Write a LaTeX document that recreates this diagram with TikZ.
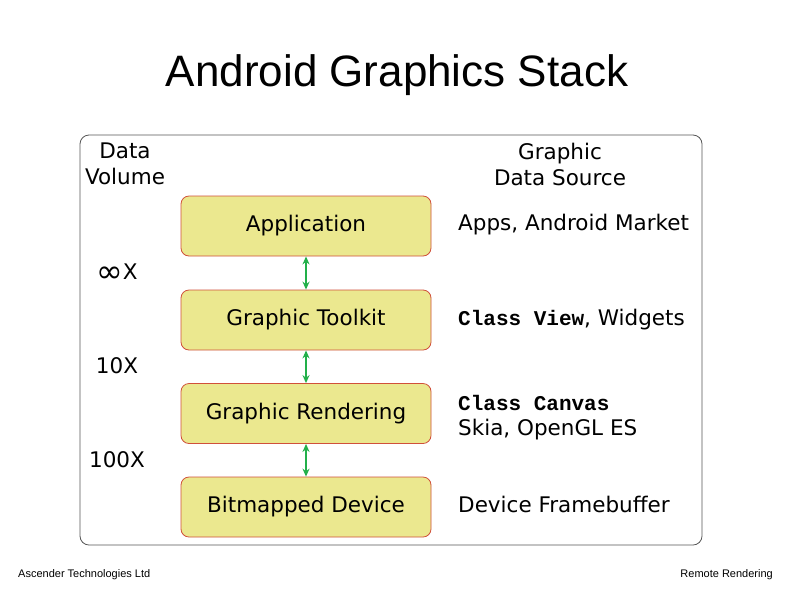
\documentclass[tikz,border=0pt]{standalone}
\usepackage{fontspec}
\setmainfont{DejaVu Sans}
\newfontfamily\titlefont{Liberation Sans}
\newfontfamily\codefont{Liberation Mono}
\usetikzlibrary{arrows.meta}
\definecolor{boxfill}{HTML}{EBE88F}
\definecolor{boxline}{HTML}{D0503A}
\definecolor{arrowgreen}{HTML}{22B04A}
\definecolor{framegray}{HTML}{555555}
\tikzset{
  layer/.style={draw=boxline, fill=boxfill, rounded corners=8pt, line width=0.8pt,
    minimum width=250pt, minimum height=60pt, inner sep=0pt, font=\fontsize{21.5}{26}\selectfont},
  lbl/.style={font=\fontsize{21.5}{26}\selectfont, inner sep=0pt},
  link/.style={arrowgreen, line width=1.3pt, {Stealth[length=8pt,width=7pt]}-{Stealth[length=8pt,width=7pt]}},
}
\begin{document}
\begin{tikzpicture}[x=1pt,y=-1pt]
\useasboundingbox (0,0) rectangle (794,595);
\fill[white] (0,0) rectangle (794,595);
\node[font=\titlefont\fontsize{44}{50}\selectfont] (title) at (397,75) {Android Graphics Stack};
\draw[framegray, line width=0.8pt, rounded corners=9pt] (80,135) rectangle (702,545);
\node[layer] (app) at (306,226) {Application};
\node[layer] (tk) at (306,320) {Graphic Toolkit};
\node[layer] (rend) at (306,413.5) {Graphic Rendering};
\node[layer] (dev) at (306,507) {Bitmapped Device};
\draw[link] (app.south) -- (tk.north);
\draw[link] (tk.south) -- (rend.north);
\draw[link] (rend.south) -- (dev.north);
\node[lbl, align=center] (dv) at (125,164) {Data\\Volume};
\node[lbl, align=center] (gds) at (560,164) {Graphic\\Data Source};
\node[lbl] (inf) at (117,273) {\raisebox{-3.5pt}{\fontsize{32}{26}\selectfont ∞}X};
\node[lbl] (x10) at (117,366) {10X};
\node[lbl] (x100) at (117,460) {100X};
\node[lbl, anchor=west] (s1) at (458,225) {Apps, Android Market};
\node[lbl, anchor=west] (s2) at (458,320) {{\codefont\bfseries\fontsize{21}{24}\selectfont Class View}, Widgets};
\node[lbl, anchor=west] (s3) at (458,403) {\codefont\bfseries\fontsize{21}{24}\selectfont Class Canvas};
\node[lbl, anchor=west] (s4) at (458,430) {Skia, OpenGL ES};
\node[lbl, anchor=west] (s5) at (458,504) {Device Framebuffer};
\node[font=\titlefont\fontsize{11}{13}\selectfont, anchor=west, inner sep=0pt] (foot1) at (18,575) {Ascender Technologies Ltd};
\node[font=\titlefont\fontsize{11}{13}\selectfont, anchor=east, inner sep=0pt] (foot2) at (773,575) {Remote Rendering};
\end{tikzpicture}
\end{document}
